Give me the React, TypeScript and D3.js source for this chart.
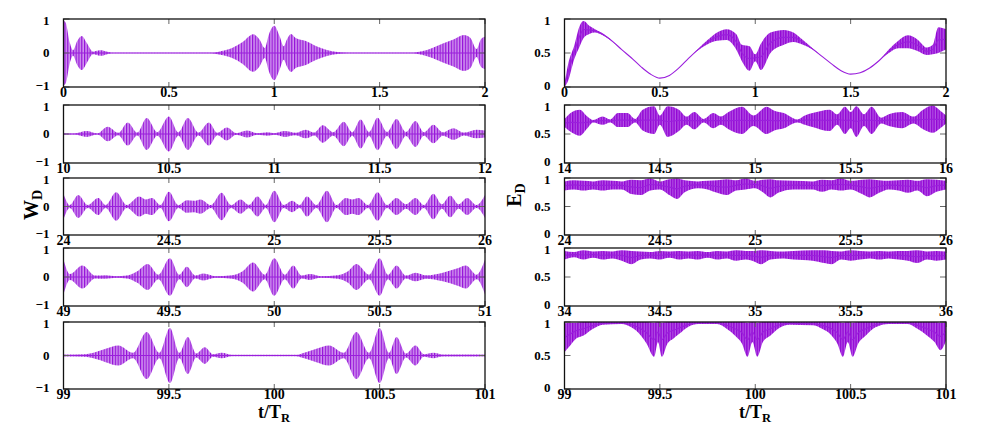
import * as d3 from 'd3';

// W_D envelope: [t, amplitude] read at lobe peaks and waists
const w1: [number, number][] = [
  [0, 0.95], [0.01, 0.9], [0.03, 0.3], [0.045, 0.08], [0.065, 0.35], [0.087, 0.5], [0.11, 0.3],
  [0.14, 0.04], [0.165, 0.07], [0.18, 0.08], [0.2, 0.05], [0.23, 0.01], [0.3, 0.005], [0.7, 0.005],
  [0.75, 0.06], [0.8, 0.15], [0.85, 0.32], [0.9, 0.55], [0.93, 0.4], [0.955, 0.15], [0.975, 0.55],
  [1.0, 0.8], [1.025, 0.5], [1.045, 0.2], [1.06, 0.4], [1.08, 0.56], [1.1, 0.45], [1.15, 0.35],
  [1.2, 0.2], [1.25, 0.09], [1.3, 0.03], [1.35, 0.005], [1.65, 0.005], [1.7, 0.05], [1.75, 0.15],
  [1.8, 0.28], [1.85, 0.4], [1.9, 0.53], [1.93, 0.45], [1.96, 0.12], [1.98, 0.4], [2.0, 0.48],
];
const w2: [number, number][] = [
  [10, 0.03], [10.05, 0.02], [10.11, 0.1], [10.16, 0.02], [10.21, 0.25], [10.26, 0.04], [10.305, 0.4],
  [10.35, 0.05], [10.395, 0.55], [10.445, 0.06], [10.5, 0.6], [10.545, 0.06], [10.59, 0.55],
  [10.64, 0.05], [10.69, 0.4], [10.73, 0.04], [10.775, 0.22], [10.82, 0.03], [10.87, 0.12],
  [10.92, 0.03], [10.97, 0.06], [11.0, 0.03], [11.05, 0.1], [11.1, 0.04], [11.15, 0.15], [11.19, 0.05],
  [11.23, 0.3], [11.28, 0.06], [11.33, 0.42], [11.37, 0.06], [11.41, 0.5], [11.45, 0.07], [11.49, 0.56],
  [11.535, 0.07], [11.58, 0.52], [11.625, 0.07], [11.67, 0.45], [11.71, 0.06], [11.755, 0.32],
  [11.8, 0.06], [11.85, 0.2], [11.9, 0.05], [11.96, 0.15], [12, 0.12],
];
const w3: [number, number][] = [
  [24, 0.45], [24.03, 0.05], [24.07, 0.4], [24.115, 0.05], [24.165, 0.3], [24.2, 0.05], [24.25, 0.5],
  [24.3, 0.05], [24.36, 0.35], [24.39, 0.25], [24.42, 0.3], [24.46, 0.05], [24.5, 0.52], [24.545, 0.05],
  [24.585, 0.22], [24.62, 0.2], [24.65, 0.25], [24.7, 0.05], [24.75, 0.48], [24.795, 0.05], [24.84, 0.25],
  [24.88, 0.06], [24.92, 0.35], [24.96, 0.05], [25.0, 0.55], [25.045, 0.05], [25.085, 0.2], [25.12, 0.05],
  [25.155, 0.35], [25.2, 0.05], [25.25, 0.55], [25.295, 0.05], [25.34, 0.3], [25.37, 0.25], [25.4, 0.3],
  [25.445, 0.05], [25.49, 0.5], [25.535, 0.05], [25.58, 0.3], [25.625, 0.08], [25.67, 0.3], [25.71, 0.05],
  [25.755, 0.45], [25.795, 0.08], [25.835, 0.38], [25.875, 0.08], [25.915, 0.3], [25.96, 0.05], [26, 0.4],
];
const w4: [number, number][] = [
  [49, 0.6], [49.03, 0.1], [49.09, 0.4], [49.15, 0.05], [49.2, 0.06], [49.25, 0.03], [49.3, 0.05],
  [49.35, 0.2], [49.4, 0.45], [49.45, 0.08], [49.505, 0.65], [49.55, 0.08], [49.585, 0.35], [49.625, 0.05],
  [49.665, 0.12], [49.72, 0.03], [49.8, 0.06], [49.85, 0.2], [49.9, 0.5], [49.955, 0.08], [50.0, 0.65],
  [50.05, 0.08], [50.09, 0.4], [50.13, 0.05], [50.17, 0.1], [50.22, 0.03], [50.3, 0.06], [50.35, 0.2],
  [50.39, 0.45], [50.45, 0.08], [50.5, 0.65], [50.54, 0.08], [50.58, 0.4], [50.625, 0.05], [50.67, 0.15],
  [50.72, 0.06], [50.8, 0.15], [50.87, 0.3], [50.91, 0.4], [50.96, 0.08], [51, 0.6],
];
const w5: [number, number][] = [
  [99, 0.03], [99.1, 0.04], [99.15, 0.1], [99.2, 0.2], [99.26, 0.3], [99.33, 0.08], [99.395, 0.7],
  [99.455, 0.08], [99.505, 0.82], [99.55, 0.08], [99.59, 0.55], [99.63, 0.06], [99.67, 0.25],
  [99.71, 0.04], [99.75, 0.08], [99.8, 0.02], [100.1, 0.02], [100.15, 0.1], [100.2, 0.2], [100.26, 0.3],
  [100.33, 0.08], [100.39, 0.7], [100.45, 0.08], [100.5, 0.82], [100.545, 0.08], [100.58, 0.55],
  [100.625, 0.06], [100.67, 0.3], [100.71, 0.04], [100.755, 0.08], [100.8, 0.03], [101, 0.03],
];

// E_D band: [t, lower, upper]
const e1: [number, number, number][] = [
  [0, 0, 0.05], [0.02, 0.1, 0.35], [0.05, 0.4, 0.6], [0.08, 0.6, 0.9], [0.1, 0.72, 0.97], [0.13, 0.78, 0.9],
  [0.16, 0.8, 0.85], [0.2, 0.76, 0.79], [0.25, 0.67, 0.68], [0.3, 0.55, 0.55], [0.35, 0.43, 0.43],
  [0.4, 0.3, 0.3], [0.45, 0.19, 0.19], [0.5, 0.13, 0.13], [0.55, 0.17, 0.17], [0.6, 0.28, 0.28],
  [0.65, 0.42, 0.42], [0.7, 0.54, 0.56], [0.75, 0.63, 0.69], [0.8, 0.68, 0.8], [0.85, 0.69, 0.85],
  [0.9, 0.55, 0.78], [0.93, 0.38, 0.62], [0.97, 0.24, 0.6], [1.0, 0.38, 0.48], [1.03, 0.25, 0.64],
  [1.08, 0.5, 0.8], [1.15, 0.62, 0.84], [1.2, 0.66, 0.8], [1.25, 0.62, 0.69], [1.3, 0.55, 0.57],
  [1.35, 0.45, 0.45], [1.4, 0.34, 0.34], [1.45, 0.24, 0.24], [1.5, 0.19, 0.19], [1.55, 0.21, 0.21],
  [1.6, 0.28, 0.28], [1.65, 0.39, 0.39], [1.7, 0.5, 0.55], [1.75, 0.57, 0.68], [1.8, 0.57, 0.76],
  [1.85, 0.53, 0.7], [1.9, 0.47, 0.58], [1.93, 0.48, 0.62], [1.96, 0.5, 0.88], [2.0, 0.55, 0.85],
];
const e2: [number, number, number][] = [
  [14, 0.62, 0.76], [14.04, 0.52, 0.88], [14.08, 0.47, 0.92], [14.12, 0.6, 0.8], [14.15, 0.7, 0.74],
  [14.2, 0.66, 0.8], [14.24, 0.7, 0.75], [14.28, 0.62, 0.86], [14.33, 0.62, 0.86], [14.37, 0.7, 0.76],
  [14.41, 0.56, 0.92], [14.47, 0.5, 0.98], [14.5, 0.66, 0.82], [14.54, 0.45, 0.98], [14.6, 0.55, 0.92],
  [14.64, 0.66, 0.8], [14.68, 0.58, 0.88], [14.73, 0.7, 0.76], [14.78, 0.6, 0.86], [14.82, 0.66, 0.8],
  [14.86, 0.58, 0.88], [14.93, 0.5, 0.97], [14.99, 0.64, 0.82], [15.06, 0.5, 0.97], [15.1, 0.56, 0.9],
  [15.15, 0.6, 0.86], [15.22, 0.7, 0.75], [15.26, 0.66, 0.82], [15.3, 0.62, 0.86], [15.39, 0.55, 0.92],
  [15.43, 0.66, 0.84], [15.47, 0.5, 0.97], [15.5, 0.6, 0.88], [15.53, 0.45, 0.98], [15.57, 0.64, 0.84],
  [15.61, 0.5, 0.97], [15.66, 0.68, 0.78], [15.7, 0.64, 0.84], [15.77, 0.6, 0.88], [15.83, 0.68, 0.8],
  [15.88, 0.58, 0.92], [15.93, 0.52, 0.99], [15.97, 0.6, 0.9], [16, 0.68, 0.82],
];
const e3: [number, number, number][] = [
  [24, 0.78, 0.94], [24.05, 0.8, 0.96], [24.1, 0.78, 0.95], [24.15, 0.8, 0.94], [24.2, 0.78, 0.96],
  [24.25, 0.8, 0.95], [24.3, 0.8, 0.94], [24.35, 0.72, 0.97], [24.4, 0.7, 0.96], [24.45, 0.78, 0.99],
  [24.5, 0.8, 0.94], [24.55, 0.7, 0.98], [24.59, 0.63, 0.99], [24.63, 0.75, 0.96], [24.7, 0.82, 0.94],
  [24.75, 0.8, 0.95], [24.8, 0.74, 0.96], [24.85, 0.7, 0.98], [24.9, 0.78, 0.96], [24.95, 0.8, 0.99],
  [25.0, 0.82, 0.95], [25.04, 0.75, 0.97], [25.08, 0.66, 0.98], [25.12, 0.74, 0.96], [25.2, 0.8, 0.95],
  [25.3, 0.8, 0.94], [25.35, 0.76, 0.97], [25.4, 0.8, 0.96], [25.45, 0.78, 0.99], [25.5, 0.8, 0.95],
  [25.56, 0.72, 0.97], [25.6, 0.66, 0.98], [25.65, 0.74, 0.96], [25.7, 0.8, 0.95], [25.75, 0.78, 0.96],
  [25.8, 0.74, 0.97], [25.85, 0.78, 0.95], [25.9, 0.68, 0.98], [25.95, 0.76, 0.97], [26, 0.8, 0.95],
];
const e4: [number, number, number][] = [
  [34, 0.8, 0.95], [34.05, 0.84, 0.93], [34.1, 0.8, 0.96], [34.15, 0.83, 0.94], [34.2, 0.8, 0.95],
  [34.25, 0.82, 0.94], [34.3, 0.78, 0.96], [34.35, 0.72, 0.95], [34.4, 0.8, 0.94], [34.45, 0.82, 0.93],
  [34.5, 0.8, 0.95], [34.55, 0.83, 0.94], [34.6, 0.8, 0.95], [34.65, 0.82, 0.94], [34.7, 0.8, 0.95],
  [34.75, 0.83, 0.93], [34.8, 0.8, 0.95], [34.85, 0.82, 0.94], [34.9, 0.78, 0.96], [34.95, 0.8, 0.95],
  [35.0, 0.76, 0.95], [35.03, 0.72, 0.96], [35.08, 0.8, 0.95], [35.15, 0.82, 0.94], [35.2, 0.8, 0.95],
  [35.3, 0.78, 0.96], [35.36, 0.74, 0.96], [35.4, 0.72, 0.95], [35.45, 0.8, 0.94], [35.5, 0.78, 0.96],
  [35.55, 0.8, 0.95], [35.6, 0.82, 0.94], [35.65, 0.8, 0.95], [35.7, 0.82, 0.94], [35.75, 0.8, 0.95],
  [35.8, 0.78, 0.95], [35.85, 0.74, 0.96], [35.9, 0.8, 0.94], [35.95, 0.78, 0.95], [36, 0.8, 0.94],
];
const e5: [number, number, number][] = [
  [99, 0.55, 0.98], [99.03, 0.65, 0.99], [99.06, 0.75, 0.99], [99.1, 0.8, 1], [99.15, 0.9, 1],
  [99.2, 0.96, 1], [99.3, 0.97, 1], [99.35, 0.92, 1], [99.4, 0.8, 1], [99.43, 0.68, 1], [99.47, 0.48, 0.99],
  [99.49, 0.7, 1], [99.51, 0.48, 0.99], [99.54, 0.68, 1], [99.57, 0.75, 1], [99.6, 0.82, 1], [99.65, 0.93, 1],
  [99.7, 0.97, 1], [99.8, 0.97, 1], [99.85, 0.9, 1], [99.9, 0.78, 1], [99.93, 0.68, 1], [99.96, 0.48, 0.99],
  [99.985, 0.7, 1], [100.01, 0.48, 0.99], [100.04, 0.7, 1], [100.08, 0.8, 1], [100.12, 0.9, 1],
  [100.18, 0.96, 1], [100.3, 0.95, 1], [100.35, 0.9, 1], [100.4, 0.8, 1], [100.43, 0.68, 1],
  [100.46, 0.48, 0.99], [100.485, 0.7, 1], [100.51, 0.48, 0.99], [100.54, 0.68, 1], [100.58, 0.8, 1],
  [100.63, 0.92, 1], [100.7, 0.97, 1], [100.8, 0.97, 1], [100.85, 0.9, 1], [100.9, 0.8, 1],
  [100.94, 0.7, 1], [100.97, 0.58, 0.99], [101, 0.72, 1],
];

const tStarts = [[0, 10, 24, 49, 99], [0, 14, 24, 34, 99]];
const wTicks = [-1, 0, 1];
const eTicks = [0, 0.5, 1];

const ROWS: [number, number][] = [[19, 87], [105, 163], [178, 235], [248, 306], [322, 389]];
const COLS: [number, number][] = [[63.5, 485], [564.5, 946]];
const FONT = 'Liberation Serif';

type Band = { t: number; lo: number; hi: number };

function Panel({ col, row, data, t0, yDomain, yTicks, fill }: {
  col: number; row: number; data: Band[]; t0: number; yDomain: [number, number]; yTicks: number[]; fill: string;
}) {
  const [x0, x1] = COLS[col];
  const [y0, y1] = ROWS[row];
  const x = d3.scaleLinear().domain([t0, t0 + 2]).range([x0, x1]);
  const y = d3.scaleLinear().domain(yDomain).range([y1, y0]);
  const area = d3.area<Band>()
    .x((d) => x(d.t)).y0((d) => y(d.lo)).y1((d) => y(d.hi))
    .curve(d3.curveMonotoneX);
  const mid = d3.line<Band>()
    .x((d) => x(d.t)).y((d) => y((d.lo + d.hi) / 2))
    .curve(d3.curveMonotoneX);
  const xt = d3.range(0, 5).map((i) => t0 + i * 0.5);
  const fmt = d3.format('~g');
  const clip = `clip-${col}-${row}`;
  // nudge the end labels inward a little so stacked panels don't collide
  const nudge = (i: number) => (i === 0 ? -1.5 : i === yTicks.length - 1 ? 1.5 : 0);
  return (
    <g>
      <clipPath id={clip}>
        <rect x={x0} y={y0} width={x1 - x0} height={y1 - y0} />
      </clipPath>
      <g clipPath={`url(#${clip})`}>
        <path d={area(data) ?? ''} fill={fill} />
        <path d={mid(data) ?? ''} fill="none" stroke="#9a1fdc" strokeWidth={1.1} />
      </g>
      {xt.map((t) => (
        <g key={t}>
          <line x1={x(t)} x2={x(t)} y1={y1} y2={y1 - 5} stroke="#666" />
          <line x1={x(t)} x2={x(t)} y1={y0} y2={y0 + 5} stroke="#666" />
          <text x={x(t)} y={y1 + 10} textAnchor="middle" style={{ fontFamily: FONT }} fontWeight="bold" fontSize={14}>
            {fmt(t)}
          </text>
        </g>
      ))}
      {yTicks.map((v, i) => (
        <g key={v}>
          <line x1={x0} x2={x0 + 6} y1={y(v)} y2={y(v)} stroke="#666" />
          <line x1={x1} x2={x1 - 6} y1={y(v)} y2={y(v)} stroke="#666" />
          <text x={x0 - 14} y={y(v) + 4 + nudge(i)} textAnchor="end" style={{ fontFamily: FONT }} fontWeight="bold" fontSize={13}>
            {fmt(v)}
          </text>
        </g>
      ))}
      <rect x={x0} y={y0} width={x1 - x0} height={y1 - y0} fill="none" stroke="#111" strokeWidth={1.3} />
    </g>
  );
}

export default function App() {
  const wSets = [w1, w2, w3, w4, w5].map((s) => s.map(([t, a]) => ({ t, lo: -a, hi: a })));
  const eSets = [e1, e2, e3, e4, e5].map((s) => s.map(([t, lo, hi]) => ({ t, lo, hi })));
  const labelStyle = { fontFamily: FONT };
  return (
    <svg width={981} height={436} style={{ position: 'absolute', left: 0, top: 0, background: '#fff' }}>
      <defs>
        <pattern id="oscW" width={2.8} height={10} patternUnits="userSpaceOnUse">
          <rect width={2.8} height={10} fill="#cf93ef" />
          <rect width={1.2} height={10} fill="#9612d8" />
        </pattern>
        <pattern id="oscE" width={2.6} height={10} patternUnits="userSpaceOnUse">
          <rect width={2.6} height={10} fill="#b456e6" />
          <rect width={1.4} height={10} fill="#9205d4" />
        </pattern>
      </defs>
      {wSets.map((d, i) => (
        <Panel key={`w${i}`} col={0} row={i} data={d} t0={tStarts[0][i]} yDomain={[-1, 1]} yTicks={wTicks} fill="url(#oscW)" />
      ))}
      {eSets.map((d, i) => (
        <Panel key={`e${i}`} col={1} row={i} data={d} t0={tStarts[1][i]} yDomain={[0, 1]} yTicks={eTicks} fill="url(#oscE)" />
      ))}
      <text transform="translate(38,205) rotate(-90)" textAnchor="middle" style={labelStyle} fontWeight="bold" fontSize={20}>
        W<tspan fontSize={14} dy={4}>D</tspan>
      </text>
      <text transform="translate(521,195) rotate(-90)" textAnchor="middle" style={labelStyle} fontWeight="bold" fontSize={20}>
        E<tspan fontSize={14} dy={4}>D</tspan>
      </text>
      <text x={274} y={418} textAnchor="middle" style={labelStyle} fontWeight="bold" fontSize={18}>
        t/T<tspan fontSize={12.5} dy={4}>R</tspan>
      </text>
      <text x={755} y={418} textAnchor="middle" style={labelStyle} fontWeight="bold" fontSize={18}>
        t/T<tspan fontSize={12.5} dy={4}>R</tspan>
      </text>
    </svg>
  );
}
